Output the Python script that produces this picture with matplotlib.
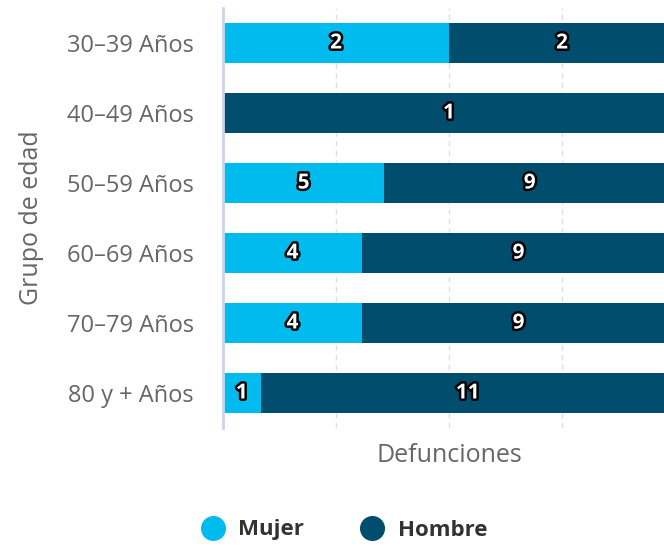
import numpy as np
import matplotlib.pyplot as plt
import matplotlib.patheffects as pe
from matplotlib.lines import Line2D

plt.rcParams['font.family'] = ['Open Sans', 'DejaVu Sans']

grupos = ['30–39 Años', '40–49 Años', '50–59 Años', '60–69 Años', '70–79 Años', '80 y + Años']
mujer = np.array([2, 0, 5, 4, 4, 1])
hombre = np.array([2, 1, 9, 9, 9, 11])

c_mujer = '#00bcee'
c_hombre = '#004d6d'

total = mujer + hombre
p_mujer = mujer / total
p_hombre = hombre / total

fig = plt.figure(figsize=(6.64, 5.49), dpi=100)
# plot area runs past the right edge, as in the original
ax = fig.add_axes([223 / 664, 1 - 428 / 549, 452 / 664, 420 / 549])

y = np.arange(len(grupos))
ax.barh(y, p_mujer, height=0.57, color=c_mujer, zorder=3)
ax.barh(y, p_hombre, left=p_mujer, height=0.57, color=c_hombre, zorder=3)

stroke = [pe.withStroke(linewidth=3.5, foreground='black')]
for i in range(len(grupos)):
    if mujer[i] > 0:
        ax.text(p_mujer[i] / 2, y[i], str(mujer[i]), ha='center', va='center',
                color='white', fontsize=15, fontweight='bold', path_effects=stroke, zorder=4)
    if hombre[i] > 0:
        ax.text(p_mujer[i] + p_hombre[i] / 2, y[i], str(hombre[i]), ha='center', va='center',
                color='white', fontsize=15, fontweight='bold', path_effects=stroke, zorder=4)

ax.set_xlim(0, 1)
ax.set_ylim(len(grupos) - 0.5, -0.5)
ax.set_yticks(y)
ax.set_yticklabels(grupos, fontsize=17, color='#666666')
ax.set_xticks([0, 0.25, 0.5, 0.75, 1])
ax.set_xticklabels([])
ax.tick_params(length=0, pad=21)
ax.grid(axis='x', color='#e0e0e0', linestyle=(0, (4, 3)), linewidth=1, zorder=0)

for s in ['top', 'right', 'bottom']:
    ax.spines[s].set_visible(False)
ax.spines['left'].set_color('#ccd6eb')
ax.spines['left'].set_linewidth(2)
ax.spines['left'].set_zorder(5)

fig.text(449 / 664, 1 - 456 / 549, 'Defunciones', ha='center', va='center',
         fontsize=18, color='#666666')
fig.text(32 / 664, 1 - 218 / 549, 'Grupo de edad', ha='center', va='center',
         rotation=90, fontsize=18, color='#666666')

handles = [Line2D([], [], marker='o', linestyle='', markersize=17, color=c_mujer),
           Line2D([], [], marker='o', linestyle='', markersize=17, color=c_hombre)]
leg = fig.legend(handles, ['Mujer', 'Hombre'], loc='center', bbox_to_anchor=(339 / 664, 1 - 530 / 549),
                 ncol=2, frameon=False, handletextpad=0.16, columnspacing=2.06,
                 prop={'size': 16, 'weight': 'bold'})
for t in leg.get_texts():
    t.set_color('#333333')

fig.savefig('out.png', dpi=100)
